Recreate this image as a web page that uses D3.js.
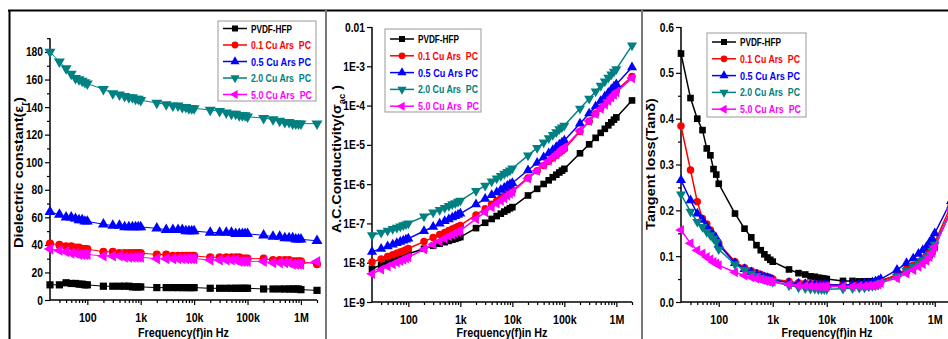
<!DOCTYPE html>
<html>
<head>
<meta charset="utf-8">
<script src="https://cdn.jsdelivr.net/npm/d3@7"></script>
<style>
body { margin: 0; background: #fff; }
svg { display: block; font-family: "Liberation Sans", Arial, sans-serif; font-weight: bold; }
</style>
</head>
<body>
<svg id="chart" width="948" height="339"></svg>
<script>
// measured frequencies (Hz)
const freq = [20,30,40,50,60,70,80,90,100, 200,300,400,500,600,700,800,900,1e3,
  2e3,3e3,4e3,5e3,6e3,7e3,8e3,9e3,1e4, 2e4,3e4,4e4,5e4,6e4,7e4,8e4,9e4,1e5,
  2e5,3e5,4e5,5e5,6e5,7e5,8e5,9e5,1e6, 2e6];

const seriesNames = ['PVDF-HFP', '0.1 Cu Ars  PC', '0.5 Cu Ars PC', '2.0 Cu Ars  PC', '5.0 Cu Ars  PC'];
const seriesColors = ['#000000', '#ff0000', '#0000ff', '#008080', '#ff00ff'];
const seriesShapes = ['square', 'circle', 'up', 'down', 'left'];
const legendWidths = [41, 60, 60, 60, 61];

// dielectric constant
const epsPVDF = [11,11,12.5,12,12,11.5,11.5,11,11, 10,10,10,10,10,9.5,9.5,9.5,9.5,
  9,9,9,9,9,9,9,9,9, 8.5,8.5,8.5,8.5,8.5,8.5,8.5,8.5,8.5, 8,8,8,8,8,8,8,8,7.5, 7];
const eps01 = [41,40,39,39,38,38,37,37,37, 35,35,34,34,34,34,34,34,34,
  33,33,32,32,32,32,32,32,32, 31,31,31,31,31,31,30,30,30, 30,29,29,29,29,28,28,28,28, 26];
const eps05 = [64,62,60,60,59,58,58,57,57, 55,54,54,53,53,53,53,53,53,
  52,51,51,51,51,50,50,50,50, 49,49,49,49,48,48,48,48,48, 47,46,46,45,45,45,44,44,44, 43];
const eps20 = [180,173,168,164,161,160,159,158,157, 153,150,149,148,147,147,146,146,145,
  143,142,141,141,140,140,139,139,139, 138,137,136,135,135,134,134,134,133,
  132,131,130,129,129,128,128,128,128, 128];
const eps50 = [37,36,35,34,34,33,33,33,33, 32,32,32,31,31,31,31,31,31,
  30,30,30,30,30,30,30,30,30, 29,29,29,29,29,28,28,28,28, 28,27,27,27,27,26,26,26,26, 28];

// a.c. conductivity
const sigPVDF = [7.0e-9,8.8e-9,1.03e-8,1.16e-8,1.28e-8,1.39e-8,1.5e-8,1.6e-8,1.7e-8,
  2.27e-8,2.7e-8,3.04e-8,3.34e-8,3.6e-8,3.85e-8,4.06e-8,4.3e-8,4.5e-8,
  7.6e-8,1.04e-7,1.3e-7,1.54e-7,1.77e-7,2.0e-7,2.21e-7,2.43e-7,2.6e-7,
  5.15e-7,7.6e-7,1.01e-6,1.25e-6,1.5e-6,1.74e-6,1.98e-6,2.21e-6,2.45e-6,
  6.1e-6,1.03e-5,1.51e-5,2.02e-5,2.56e-5,3.14e-5,3.74e-5,4.37e-5,5.0e-5, 1.35e-4];
const sig01 = [1.05e-8,1.24e-8,1.43e-8,1.6e-8,1.75e-8,1.88e-8,2.0e-8,2.13e-8,2.3e-8,
  3.45e-8,4.4e-8,5.2e-8,5.9e-8,6.6e-8,7.2e-8,7.8e-8,8.4e-8,8.9e-8,
  1.65e-7,2.37e-7,3.06e-7,3.73e-7,4.4e-7,5.0e-7,5.7e-7,6.3e-7,6.9e-7,
  1.44e-6,2.2e-6,3.0e-6,3.8e-6,4.6e-6,5.4e-6,6.3e-6,7.1e-6,7.9e-6,
  2.2e-5,4.0e-5,6.2e-5,8.6e-5,1.12e-4,1.42e-4,1.72e-4,2.05e-4,2.4e-4, 5.5e-4];
const sig05 = [1.9e-8,2.26e-8,2.6e-8,2.9e-8,3.18e-8,3.42e-8,3.66e-8,3.86e-8,4.1e-8,
  6.4e-8,8.2e-8,9.9e-8,1.14e-7,1.28e-7,1.42e-7,1.54e-7,1.66e-7,1.78e-7,
  3.05e-7,4.2e-7,5.25e-7,6.2e-7,7.2e-7,8.1e-7,9.0e-7,9.9e-7,1.07e-6,
  2.26e-6,3.5e-6,4.8e-6,6.1e-6,7.4e-6,8.8e-6,1.01e-5,1.15e-5,1.29e-5,
  3.5e-5,6.3e-5,9.5e-5,1.31e-4,1.7e-4,2.12e-4,2.57e-4,3.05e-4,3.5e-4, 9.4e-4];
const sig20 = [5.0e-8,5.8e-8,6.5e-8,7.2e-8,7.8e-8,8.4e-8,9.0e-8,9.5e-8,1.0e-7,
  1.5e-7,1.9e-7,2.2e-7,2.5e-7,2.8e-7,3.1e-7,3.3e-7,3.6e-7,3.8e-7,
  6.7e-7,9.2e-7,1.17e-6,1.4e-6,1.62e-6,1.84e-6,2.04e-6,2.25e-6,2.5e-6,
  5.4e-6,8.4e-6,1.15e-5,1.47e-5,1.8e-5,2.1e-5,2.5e-5,2.8e-5,3.1e-5,
  8.4e-5,1.5e-4,2.3e-4,3.2e-4,4.1e-4,5.1e-4,6.2e-4,7.3e-4,8.5e-4, 3.4e-3];
const sig50 = [5.2e-9,6.7e-9,8.0e-9,9.1e-9,1.01e-8,1.11e-8,1.2e-8,1.29e-8,1.38e-8,
  2.2e-8,2.9e-8,3.5e-8,4.1e-8,4.7e-8,5.2e-8,5.7e-8,6.1e-8,6.6e-8,
  1.3e-7,1.94e-7,2.57e-7,3.2e-7,3.8e-7,4.4e-7,5.1e-7,5.7e-7,6.3e-7,
  1.39e-6,2.2e-6,3.06e-6,3.95e-6,4.9e-6,5.8e-6,6.7e-6,7.7e-6,8.7e-6,
  2.3e-5,4.05e-5,6.1e-5,8.3e-5,1.07e-4,1.33e-4,1.6e-4,1.89e-4,2.2e-4, 5.0e-4];

// tangent loss
const tanPVDF = [0.542,0.445,0.40,0.375,0.335,0.32,0.29,0.278,0.258,
  0.193,0.16,0.141,0.124,0.113,0.104,0.097,0.092,0.088,
  0.071,0.063,0.06,0.056,0.055,0.053,0.052,0.051,0.05,
  0.046,0.046,0.045,0.045,0.045,0.045,0.045,0.046,0.047,
  0.058,0.068,0.077,0.084,0.09,0.096,0.102,0.11,0.12, 0.2];
const tan01 = [0.384,0.288,0.219,0.182,0.17,0.157,0.146,0.135,0.128,
  0.088,0.075,0.068,0.064,0.06,0.057,0.055,0.053,0.05,
  0.045,0.042,0.041,0.04,0.04,0.039,0.039,0.039,0.038,
  0.037,0.037,0.038,0.038,0.039,0.04,0.041,0.042,0.045,
  0.06,0.072,0.08,0.088,0.095,0.102,0.11,0.118,0.13, 0.21];
const tan05 = [0.266,0.222,0.193,0.179,0.164,0.153,0.146,0.139,0.125,
  0.085,0.072,0.065,0.06,0.057,0.054,0.052,0.05,0.048,
  0.042,0.04,0.039,0.038,0.038,0.037,0.037,0.037,0.037,
  0.037,0.038,0.039,0.04,0.041,0.043,0.045,0.047,0.05,
  0.07,0.085,0.095,0.105,0.113,0.12,0.13,0.138,0.15, 0.22];
const tan20 = [0.235,0.197,0.175,0.164,0.153,0.146,0.139,0.131,0.115,
  0.082,0.07,0.062,0.057,0.053,0.05,0.048,0.046,0.044,
  0.036,0.032,0.03,0.029,0.029,0.028,0.028,0.028,0.028,
  0.029,0.03,0.031,0.032,0.034,0.035,0.036,0.038,0.042,
  0.055,0.068,0.077,0.084,0.09,0.097,0.104,0.112,0.125, 0.2];
const tan50 = [0.157,0.128,0.113,0.106,0.098,0.093,0.087,0.084,0.08,
  0.065,0.058,0.054,0.051,0.049,0.047,0.046,0.045,0.044,
  0.038,0.036,0.035,0.035,0.034,0.034,0.034,0.034,0.034,
  0.034,0.034,0.035,0.035,0.036,0.036,0.037,0.038,0.042,
  0.052,0.062,0.07,0.077,0.083,0.09,0.098,0.107,0.12, 0.2];

// axis ticks
const xMajor = [100, 1e3, 1e4, 1e5, 1e6];
const xLabels = ['100', '1k', '10k', '100k', '1M'];
const xMinor = [30,40,50,60,70,80,90, 200,300,400,500,600,700,800,900,
  2e3,3e3,4e3,5e3,6e3,7e3,8e3,9e3, 2e4,3e4,4e4,5e4,6e4,7e4,8e4,9e4,
  2e5,3e5,4e5,5e5,6e5,7e5,8e5,9e5, 2e6];
const epsTicks = [0,20,40,60,80,100,120,140,160,180];
const epsMinor = [10,30,50,70,90,110,130,150,170,190];
const sigTicks = [1e-9,1e-8,1e-7,1e-6,1e-5,1e-4,1e-3,1e-2];
const sigLabels = ['1E-9','1E-8','1E-7','1E-6','1E-5','1E-4','1E-3','0.01'];
const tanTicks = [0,0.1,0.2,0.3,0.4,0.5,0.6];
const tanLabels = ['0.0','0.1','0.2','0.3','0.4','0.5','0.6'];
const tanMinor = [0.05,0.15,0.25,0.35,0.45,0.55];

const svg = d3.select('#chart');

// the reference uses a narrow bold face; squeeze Liberation Sans to match
function squeeze(sel, k) {
    sel.each(function () {
        const w = this.getComputedTextLength();
        this.setAttribute('textLength', w * k);
        this.setAttribute('lengthAdjust', 'spacingAndGlyphs');
    });
}

function drawMarker(g, shape, x, y, color, size) {
    const type = shape === 'square' ? d3.symbolSquare
        : shape === 'circle' ? d3.symbolCircle : d3.symbolTriangle;
    const rot = shape === 'down' ? 180 : shape === 'left' ? -90 : 0;
    g.append('path')
        .attr('d', d3.symbol().type(type).size(size)())
        .attr('transform', `translate(${x},${y}) rotate(${rot})`)
        .attr('fill', color);
}

function drawPanel(p) {
    const g = svg.append('g');
    const x = d3.scaleLog().domain([20, 2e6]).range(p.xRange);
    const y = p.yScale;
    const y0 = y.range()[0];
    const xEnd = Math.min(p.xRange[1], 948);

    // bottom axis
    g.append('g').attr('transform', `translate(0,${y0})`)
        .call(d3.axisBottom(x).tickValues(xMinor).tickSize(3).tickFormat(''));
    g.append('g').attr('transform', `translate(0,${y0})`)
        .call(d3.axisBottom(x).tickValues(xMajor).tickSize(5)
            .tickFormat((d, i) => xLabels[i]))
        .call(a => a.selectAll('text').attr('dy', '1.08em').style('font-size', '13px')
            .call(squeeze, 0.82));

    // left axis
    if (p.yMinor) {
        g.append('g').attr('transform', `translate(${p.xRange[0]},0)`)
            .call(d3.axisLeft(y).tickValues(p.yMinor).tickSize(3).tickFormat(''));
    }
    g.append('g').attr('transform', `translate(${p.xRange[0]},0)`)
        .call(d3.axisLeft(y).tickValues(p.yTicks).tickSize(5)
            .tickFormat((d, i) => p.yLabels[i]))
        .call(a => a.selectAll('text').attr('x', -7).style('font-size', '12.5px')
            .call(squeeze, 0.82));

    g.selectAll('.domain').remove();
    g.selectAll('.tick line').attr('stroke-width', 1.2);
    g.append('line').attr('x1', p.xRange[0]).attr('x2', xEnd)
        .attr('y1', y0).attr('y2', y0).attr('stroke', '#000').attr('stroke-width', 1.5);
    g.append('line').attr('x1', p.xRange[0]).attr('x2', p.xRange[0])
        .attr('y1', y0).attr('y2', y(p.yTop)).attr('stroke', '#000').attr('stroke-width', 1.5);

    // series
    const line = d3.line().x(d => x(d[0])).y(d => y(d[1]));
    p.series.forEach((vals, i) => {
        const pts = freq.map((f, j) => [f, vals[j]]);
        g.append('path').datum(pts).attr('d', line)
            .attr('fill', 'none').attr('stroke', seriesColors[i]).attr('stroke-width', p.lw);
        pts.forEach(d => drawMarker(g, seriesShapes[i], x(d[0]), y(d[1]), seriesColors[i], p.ms));
    });

    // axis titles
    const yt = g.append('text').attr('text-anchor', 'middle').style('font-size', '13.5px');
    p.yTitle(yt);
    const k = p.titleLen / yt.node().getBBox().width;
    yt.attr('transform', `translate(${p.titleX},${p.titleY}) rotate(-90) scale(${k},1)`);

    g.append('text').attr('x', p.xTitleX).attr('y', 337)
        .attr('text-anchor', 'middle').style('font-size', '12.5px')
        .text('Frequency(f)in Hz')
        .attr('textLength', 91).attr('lengthAdjust', 'spacingAndGlyphs');

    // legend
    const L = p.legend;
    g.append('rect').attr('x', L.x).attr('y', L.y).attr('width', L.w).attr('height', L.h)
        .attr('fill', '#fff').attr('stroke', '#999').attr('stroke-width', 1);
    seriesNames.forEach((name, i) => {
        const ly = L.y + L.top + i * L.step;
        g.append('line').attr('x1', L.x + 5).attr('x2', L.x + 29).attr('y1', ly).attr('y2', ly)
            .attr('stroke', seriesColors[i]).attr('stroke-width', 1.5);
        drawMarker(g, seriesShapes[i], L.x + 17, ly, seriesColors[i], 36);
        g.append('text').attr('x', L.x + 33).attr('y', ly + 4)
            .attr('fill', seriesColors[i]).style('font-size', '10.5px')
            .style('white-space', 'pre').text(name)
            .attr('textLength', legendWidths[i]).attr('lengthAdjust', 'spacingAndGlyphs');
    });
}

drawPanel({
    xRange: [50, 317],
    yScale: d3.scaleLinear().domain([0, 190]).range([300, 38.2]),
    yTop: 190, yTicks: epsTicks, yLabels: epsTicks.map(String), yMinor: epsMinor,
    series: [epsPVDF, eps01, eps05, eps20, eps50], lw: 1, ms: 52,
    titleX: 22.5, titleY: 172.5, titleLen: 151, xTitleX: 183.5,
    yTitle: t => { t.append('tspan').text('Dielectric constant(ε');
        t.append('tspan').attr('baseline-shift', 'sub').style('font-size', '9px').text('r');
        t.append('tspan').text(')'); },
    legend: { x: 218, y: 21, w: 98, h: 80, top: 7.5, step: 16.5 }
});

drawPanel({
    xRange: [372, 632],
    yScale: d3.scaleLog().domain([1e-9, 1e-2]).range([302, 27]),
    yTop: 1e-2, yTicks: sigTicks, yLabels: sigLabels, yMinor: null,
    series: [sigPVDF, sig01, sig05, sig20, sig50], lw: 1.5, ms: 44,
    titleX: 340.5, titleY: 159, titleLen: 148, xTitleX: 502,
    yTitle: t => { t.append('tspan').text('A.C.Conductivity(σ');
        t.append('tspan').attr('baseline-shift', 'sub').style('font-size', '9px').text('ac');
        t.append('tspan').text(' )'); },
    legend: { x: 385, y: 29, w: 96, h: 83, top: 10, step: 16.8 }
});

drawPanel({
    xRange: [681, 951],
    yScale: d3.scaleLinear().domain([0, 0.6]).range([302, 27]),
    yTop: 0.6, yTicks: tanTicks, yLabels: tanLabels, yMinor: tanMinor,
    series: [tanPVDF, tan01, tan05, tan20, tan50], lw: 1.5, ms: 44,
    titleX: 655, titleY: 164, titleLen: 132, xTitleX: 827,
    yTitle: t => t.text('Tangent loss(Tanδ)'),
    legend: { x: 707, y: 33, w: 99, h: 84, top: 9, step: 16.8 }
});

// frame and panel separators
svg.append('line').attr('x1', 8).attr('x2', 948).attr('y1', 10.5).attr('y2', 10.5)
    .attr('stroke', '#000').attr('stroke-width', 2);
svg.append('line').attr('x1', 9.5).attr('x2', 9.5).attr('y1', 10).attr('y2', 339)
    .attr('stroke', '#000').attr('stroke-width', 2);
[326, 642].forEach(sx => {
    svg.append('line').attr('x1', sx).attr('x2', sx).attr('y1', 10).attr('y2', 339)
        .attr('stroke', '#777').attr('stroke-width', 2);
});
</script>
</body>
</html>
